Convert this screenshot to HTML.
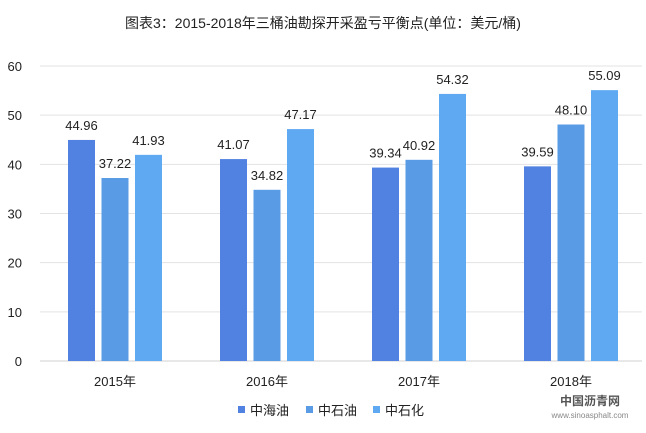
<!DOCTYPE html>
<html><head><meta charset="utf-8"><style>
body{margin:0;background:#fff;}
svg{display:block;font-family:"Liberation Sans","Noto Sans CJK SC",sans-serif;}
</style></head><body>
<svg id="c" width="646" height="433">
<text x="323" y="28" text-anchor="middle" font-size="14" fill="#222">图表3：2015-2018年三桶油勘探开采盈亏平衡点(单位：美元/桶)</text>
<g id="grid"></g><g id="bars"></g><g id="labels"></g>
<g font-size="13" fill="#222">
<rect x="238" y="406" width="7" height="7" fill="#5182e2"/><text x="250" y="415">中海油</text>
<rect x="306" y="406" width="7" height="7" fill="#5a9be6"/><text x="318" y="415">中石油</text>
<rect x="373" y="406" width="7" height="7" fill="#5ea9f2"/><text x="385" y="415">中石化</text>
</g>
<text x="590" y="405" text-anchor="middle" font-size="12" fill="#555" font-weight="bold">中国沥青网</text>
<text x="590" y="418" text-anchor="middle" font-size="8" fill="#888">www.sinoasphalt.com</text>
</svg>
<script>
const categories=["2015年","2016年","2017年","2018年"];
const cnooc=[44.96,41.07,39.34,39.59];
const petrochina=[37.22,34.82,40.92,48.10];
const sinopec=[41.93,47.17,54.32,55.09];
const yTicks=[0,10,20,30,40,50,60];
const series=[cnooc,petrochina,sinopec];
const colors=["#5182e2","#5a9be6","#5ea9f2"];
const names=["cnooc","petrochina","sinopec"];
const NS="http://www.w3.org/2000/svg";
const y=v=>361-v*(295/60);
const gx=i=>115+i*152;
function mk(t,a,p){const e=document.createElementNS(NS,t);for(const k in a)e.setAttribute(k,a[k]);p.appendChild(e);return e;}
const grid=document.getElementById('grid'),bars=document.getElementById('bars'),labels=document.getElementById('labels');
yTicks.forEach(v=>{
 const l=mk('line',{x1:40,x2:642,y1:y(v),y2:y(v),stroke:v===0?'#d0d0d0':'#e3e3e3'},grid);
 
 
 const t=mk('text',{x:22,y:y(v)+5,'text-anchor':'end','font-size':13,fill:'#222'},grid);
 t.textContent=v;
 
 
});
categories.forEach((c,i)=>{
 const t=mk('text',{x:gx(i),y:386,'text-anchor':'middle','font-size':13,fill:'#222'},labels);
 t.textContent=c;
 
 
 series.forEach((s,j)=>{
  const x=gx(i)-47+j*33.5;
  const r=mk('rect',{x:x,y:y(s[i]),width:27,height:361-y(s[i]),fill:colors[j]},bars);
  
  
  const lt=mk('text',{x:x+13.5,y:y(s[i])-10,'text-anchor':'middle','font-size':13,fill:'#222'},labels);
  lt.textContent=s[i].toFixed(2);
  
  
 });
});
</script>
</body></html>
